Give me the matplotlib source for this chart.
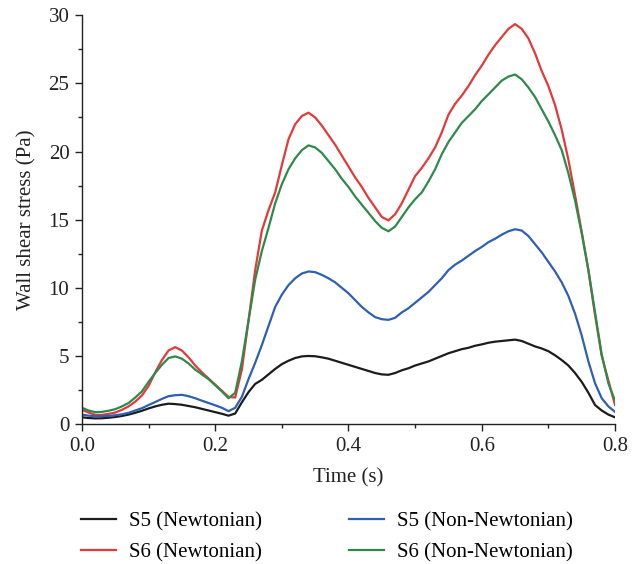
import numpy as np
import matplotlib
matplotlib.use("Agg")
import matplotlib.pyplot as plt
from matplotlib.ticker import MultipleLocator, FormatStrFormatter

plt.rcParams["font.family"] = ["Liberation Serif", "DejaVu Serif"]

# Time samples over one cardiac cycle (s)
time = np.round(np.arange(0, 0.801, 0.01), 2)

# Wall shear stress (Pa)
s5_newtonian = [
    0.5, 0.45, 0.42, 0.43, 0.47, 0.52, 0.6, 0.7, 0.83, 0.98,
    1.15, 1.3, 1.42, 1.5, 1.47, 1.42, 1.33, 1.24, 1.12, 1.0,
    0.88, 0.76, 0.62, 0.78, 1.6, 2.35, 2.95, 3.25, 3.65, 4.05,
    4.4, 4.65, 4.85, 4.97, 5.0, 4.98, 4.9, 4.8, 4.65, 4.5,
    4.35, 4.2, 4.05, 3.9, 3.75, 3.65, 3.62, 3.75, 3.95, 4.1,
    4.3, 4.45, 4.6, 4.8, 5.0, 5.2, 5.35, 5.5, 5.6, 5.75,
    5.85, 5.97, 6.05, 6.1, 6.15, 6.2, 6.1, 5.9, 5.7, 5.55,
    5.35, 5.05, 4.7, 4.3, 3.75, 3.1, 2.3, 1.4, 1.0, 0.7,
    0.5,
]
s6_newtonian = [
    1.05, 0.85, 0.68, 0.68, 0.75, 0.85, 1.05, 1.3, 1.65, 2.1,
    2.8, 3.8, 4.7, 5.4, 5.65, 5.4, 4.9, 4.3, 3.8, 3.35,
    2.9, 2.45, 2.0, 1.95, 4.0, 7.6, 11.3, 14.2, 15.7, 17.0,
    19.0, 20.9, 22.0, 22.6, 22.85, 22.5, 21.9, 21.2, 20.5, 19.7,
    18.9, 18.1, 17.4, 16.6, 15.9, 15.2, 14.95, 15.4, 16.2, 17.2,
    18.2, 18.8, 19.5, 20.3, 21.4, 22.7, 23.5, 24.1, 24.8, 25.6,
    26.3, 27.1, 27.8, 28.4, 29.0, 29.35, 29.0, 28.3, 27.2, 25.9,
    24.8, 23.4, 21.6, 19.4, 16.8, 14.1, 11.3, 8.0, 5.0, 3.2,
    1.4,
]
s5_non_newtonian = [
    0.7, 0.62, 0.58, 0.58, 0.6, 0.65, 0.72, 0.83, 1.0, 1.17,
    1.4, 1.62, 1.85, 2.05, 2.12, 2.15, 2.05, 1.9, 1.72, 1.55,
    1.38, 1.2, 0.95, 1.2, 2.0, 3.3, 4.5, 5.8, 7.2, 8.6,
    9.5, 10.2, 10.7, 11.05, 11.2, 11.15, 10.95, 10.7, 10.4, 10.0,
    9.6, 9.1, 8.6, 8.2, 7.85, 7.7, 7.65, 7.8, 8.2, 8.5,
    8.9, 9.3, 9.7, 10.2, 10.7, 11.3, 11.7, 12.0, 12.35, 12.7,
    13.0, 13.35, 13.6, 13.9, 14.15, 14.3, 14.2, 13.8, 13.2, 12.6,
    11.9, 11.2, 10.4, 9.4, 8.1, 6.5, 4.6, 3.0, 1.9, 1.3,
    0.9,
]
s6_non_newtonian = [
    1.2, 1.0, 0.88, 0.9, 0.98, 1.1, 1.3, 1.55, 1.95, 2.4,
    3.1, 3.75, 4.35, 4.85, 4.97, 4.8, 4.45, 4.0, 3.65, 3.3,
    2.85, 2.4, 1.9, 2.3, 4.6, 7.6, 10.6, 12.7, 14.4, 16.2,
    17.6, 18.7, 19.5, 20.1, 20.45, 20.3, 19.9, 19.3, 18.7, 18.0,
    17.4, 16.7, 16.1, 15.5, 14.9, 14.4, 14.15, 14.5, 15.2, 15.9,
    16.5, 17.0, 17.8, 18.7, 19.8, 20.7, 21.4, 22.1, 22.6, 23.1,
    23.7, 24.2, 24.7, 25.2, 25.5, 25.65, 25.3, 24.7, 24.0, 23.1,
    22.2, 21.2, 20.1, 18.4, 16.4, 14.0, 11.3, 8.2, 5.1, 3.0,
    1.7,
]

series = [
    ("S5 (Newtonian)", s5_newtonian, "#1c1c1c"),
    ("S6 (Newtonian)", s6_newtonian, "#e2393a"),
    ("S5 (Non-Newtonian)", s5_non_newtonian, "#2f5fb3"),
    ("S6 (Non-Newtonian)", s6_non_newtonian, "#2f8a4a"),
]

fs = 15

fig = plt.figure(figsize=(6.4, 5.64), dpi=100)
ax = fig.add_axes([0.128, 0.248, 0.833, 0.725])

for label, values, color in series:
    ax.plot(time, values, color=color, lw=1.6, label=label)

ax.set_xlim(0, 0.8)
ax.set_ylim(0, 30)
ax.xaxis.set_major_locator(MultipleLocator(0.2))
ax.xaxis.set_minor_locator(MultipleLocator(0.1))
ax.xaxis.set_major_formatter(FormatStrFormatter("%.1f"))
ax.yaxis.set_major_locator(MultipleLocator(5))
ax.yaxis.set_minor_locator(MultipleLocator(2.5))

for side in ("top", "right"):
    ax.spines[side].set_visible(False)
for side in ("left", "bottom"):
    ax.spines[side].set_linewidth(1.0)
    ax.spines[side].set_color("#222222")

ax.tick_params(which="major", direction="out", length=5, width=1.0,
               labelsize=fs, colors="#222222", pad=4)
ax.tick_params(which="minor", direction="out", length=3, width=1.0,
               colors="#222222")

ax.set_xlabel("Time (s)", fontsize=fs, color="#222222", labelpad=9)
ax.set_ylabel("Wall shear stress (Pa)", fontsize=fs, color="#222222", labelpad=9)

fig.legend(loc="upper left", bbox_to_anchor=(0.126, 0.092), ncol=2,
           frameon=False, fontsize=fs, handlelength=1.7, handletextpad=0.6,
           columnspacing=4.2, labelspacing=0.55, borderaxespad=0,
           borderpad=0)

fig.savefig("out.png", dpi=100)
